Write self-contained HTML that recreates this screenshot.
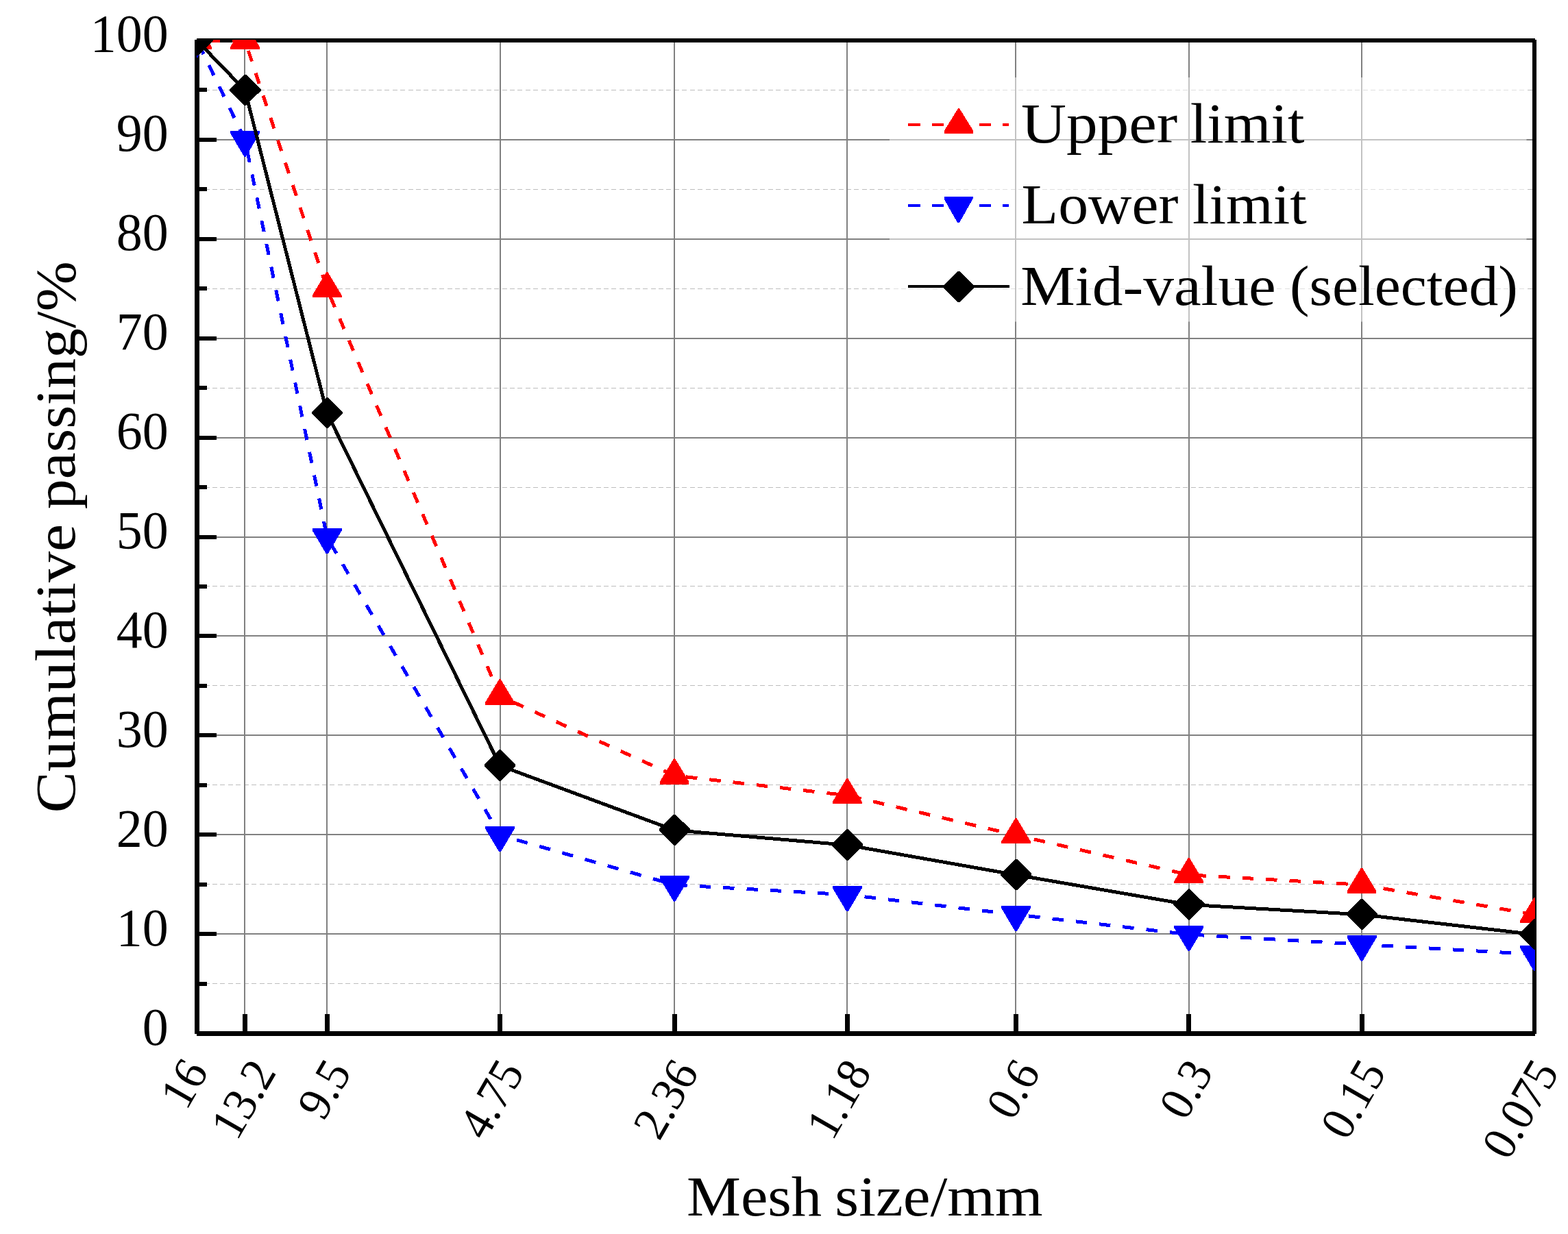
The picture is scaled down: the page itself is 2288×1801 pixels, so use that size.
<!DOCTYPE html>
<html lang="en"><head><meta charset="utf-8"><title>Cumulative passing vs mesh size</title>
<style>html,body{margin:0;padding:0;background:#fff;}body{width:2288px;height:1801px;overflow:hidden;}svg{display:block;}text{font-family:"Liberation Serif", serif;fill:#000;}</style></head><body>
<svg width="2288" height="1801" viewBox="0 0 2288 1801">
<rect x="0" y="0" width="2288" height="1801" fill="#ffffff"/>
<defs><clipPath id="plotclip"><rect x="287" y="58" width="1953" height="1451"/></clipPath></defs>
<g id="grid" shape-rendering="crispEdges">
<line x1="287.2" y1="1435.5" x2="2236" y2="1435.5" stroke="#bdbdbd" stroke-width="1" stroke-dasharray="7 4.42"/>
<line x1="287.2" y1="1290.5" x2="2236" y2="1290.5" stroke="#bdbdbd" stroke-width="1" stroke-dasharray="7 4.42"/>
<line x1="287.2" y1="1145.5" x2="2236" y2="1145.5" stroke="#bdbdbd" stroke-width="1" stroke-dasharray="7 4.42"/>
<line x1="287.2" y1="1000.5" x2="2236" y2="1000.5" stroke="#bdbdbd" stroke-width="1" stroke-dasharray="7 4.42"/>
<line x1="287.2" y1="855.5" x2="2236" y2="855.5" stroke="#bdbdbd" stroke-width="1" stroke-dasharray="7 4.42"/>
<line x1="287.2" y1="711.5" x2="2236" y2="711.5" stroke="#bdbdbd" stroke-width="1" stroke-dasharray="7 4.42"/>
<line x1="287.2" y1="566.5" x2="2236" y2="566.5" stroke="#bdbdbd" stroke-width="1" stroke-dasharray="7 4.42"/>
<line x1="287.2" y1="421.5" x2="2236" y2="421.5" stroke="#bdbdbd" stroke-width="1" stroke-dasharray="7 4.42"/>
<line x1="287.2" y1="276.5" x2="2236" y2="276.5" stroke="#bdbdbd" stroke-width="1" stroke-dasharray="7 4.42"/>
<line x1="287.2" y1="131.5" x2="2236" y2="131.5" stroke="#bdbdbd" stroke-width="1" stroke-dasharray="7 4.42"/>
<rect x="316" y="1362" width="1920" height="2" fill="#808080"/>
<rect x="316" y="1217" width="1920" height="2" fill="#808080"/>
<rect x="316" y="1072" width="1920" height="2" fill="#808080"/>
<rect x="316" y="927" width="1920" height="2" fill="#808080"/>
<rect x="316" y="783" width="1920" height="2" fill="#808080"/>
<rect x="316" y="638" width="1920" height="2" fill="#808080"/>
<rect x="316" y="493" width="1920" height="2" fill="#808080"/>
<rect x="316" y="348" width="1920" height="2" fill="#808080"/>
<rect x="316" y="203" width="1920" height="2" fill="#808080"/>
<rect x="356" y="62" width="2" height="1418" fill="#808080"/>
<rect x="476" y="62" width="2" height="1418" fill="#808080"/>
<rect x="729" y="62" width="2" height="1418" fill="#808080"/>
<rect x="983" y="62" width="2" height="1418" fill="#808080"/>
<rect x="1235" y="62" width="2" height="1418" fill="#808080"/>
<rect x="1481" y="62" width="2" height="1418" fill="#808080"/>
<rect x="1734" y="62" width="2" height="1418" fill="#808080"/>
<rect x="1986" y="62" width="2" height="1418" fill="#808080"/>
</g>
<rect x="1298" y="113" width="929.5" height="356.5" fill="#ffffff" fill-opacity="0.52"/>
<g id="axes" fill="#000" shape-rendering="crispEdges">
<rect x="284" y="58" width="7" height="1451"/>
<rect x="2236" y="58" width="6" height="1451"/>
<rect x="287" y="56" width="1953" height="6"/>
<rect x="287" y="1505" width="1953" height="7"/>
<rect x="291" y="1433" width="11" height="6"/>
<rect x="291" y="1360" width="25" height="6"/>
<rect x="291" y="1288" width="11" height="6"/>
<rect x="291" y="1215" width="25" height="6"/>
<rect x="291" y="1143" width="11" height="6"/>
<rect x="291" y="1070" width="25" height="6"/>
<rect x="291" y="998" width="11" height="6"/>
<rect x="291" y="925" width="25" height="6"/>
<rect x="291" y="853" width="11" height="6"/>
<rect x="291" y="781" width="25" height="6"/>
<rect x="291" y="708" width="11" height="6"/>
<rect x="291" y="636" width="25" height="6"/>
<rect x="291" y="563" width="11" height="6"/>
<rect x="291" y="491" width="25" height="6"/>
<rect x="291" y="418" width="11" height="6"/>
<rect x="291" y="346" width="25" height="6"/>
<rect x="291" y="273" width="11" height="6"/>
<rect x="291" y="201" width="25" height="6"/>
<rect x="291" y="128" width="11" height="6"/>
<rect x="354" y="1480" width="7" height="25"/>
<rect x="474" y="1480" width="7" height="25"/>
<rect x="726" y="1480" width="7" height="25"/>
<rect x="981" y="1480" width="7" height="25"/>
<rect x="1233" y="1480" width="7" height="25"/>
<rect x="1479" y="1480" width="7" height="25"/>
<rect x="1731" y="1480" width="7" height="25"/>
<rect x="1984" y="1480" width="7" height="25"/>
</g>
<g id="data" clip-path="url(#plotclip)" shape-rendering="crispEdges">
<polyline points="287.50,59.27 357.51,59.27 477.22,421.64 729.49,1015.94 984.07,1131.90 1236.34,1160.89 1482.49,1218.87 1734.76,1276.85 1987.03,1291.35 2239.30,1334.83" fill="none" stroke="#ff0000" stroke-width="5.0" stroke-linejoin="round" stroke-dasharray="16.4 18.04" stroke-dashoffset="17.84"/>
<polygon points="286.50,34.47 288.50,34.47 308.80,68.27 308.80,71.87 266.20,71.87 266.20,68.27 286.50,34.47" fill="#ff0000"/>
<polygon points="356.51,34.47 358.51,34.47 378.81,68.27 378.81,71.87 336.21,71.87 336.21,68.27 356.51,34.47" fill="#ff0000"/>
<polygon points="476.22,396.84 478.22,396.84 498.52,430.64 498.52,434.25 455.92,434.25 455.92,430.64 476.22,396.84" fill="#ff0000"/>
<polygon points="728.49,991.14 730.49,991.14 750.79,1024.94 750.79,1028.54 708.19,1028.54 708.19,1024.94 728.49,991.14" fill="#ff0000"/>
<polygon points="983.07,1107.10 985.07,1107.10 1005.37,1140.90 1005.37,1144.50 962.77,1144.50 962.77,1140.90 983.07,1107.10" fill="#ff0000"/>
<polygon points="1235.34,1136.09 1237.34,1136.09 1257.64,1169.89 1257.64,1173.49 1215.04,1173.49 1215.04,1169.89 1235.34,1136.09" fill="#ff0000"/>
<polygon points="1481.49,1194.07 1483.49,1194.07 1503.79,1227.87 1503.79,1231.47 1461.19,1231.47 1461.19,1227.87 1481.49,1194.07" fill="#ff0000"/>
<polygon points="1733.76,1252.05 1735.76,1252.05 1756.06,1285.85 1756.06,1289.45 1713.46,1289.45 1713.46,1285.85 1733.76,1252.05" fill="#ff0000"/>
<polygon points="1986.03,1266.55 1988.03,1266.55 2008.33,1300.35 2008.33,1303.94 1965.73,1303.94 1965.73,1300.35 1986.03,1266.55" fill="#ff0000"/>
<polygon points="2238.30,1310.03 2240.30,1310.03 2260.60,1343.83 2260.60,1347.43 2218.00,1347.43 2218.00,1343.83 2238.30,1310.03" fill="#ff0000"/>
<polyline points="287.50,59.27 357.51,204.22 477.22,784.02 729.49,1218.87 984.07,1291.35 1236.34,1305.84 1482.49,1334.83 1734.76,1363.82 1987.03,1378.32 2239.30,1392.81" fill="none" stroke="#0000ff" stroke-width="5.0" stroke-linejoin="round" stroke-dasharray="16.4 18.08" stroke-dashoffset="28.98"/>
<polygon points="286.30,83.67 288.70,83.67 309.00,49.67 309.00,46.17 266.00,46.17 266.00,49.67 286.30,83.67" fill="#0000ff"/>
<polygon points="356.31,228.62 358.71,228.62 379.01,194.62 379.01,191.12 336.01,191.12 336.01,194.62 356.31,228.62" fill="#0000ff"/>
<polygon points="476.02,808.42 478.42,808.42 498.72,774.42 498.72,770.92 455.72,770.92 455.72,774.42 476.02,808.42" fill="#0000ff"/>
<polygon points="728.29,1243.27 730.69,1243.27 750.99,1209.27 750.99,1205.77 707.99,1205.77 707.99,1209.27 728.29,1243.27" fill="#0000ff"/>
<polygon points="982.87,1315.75 985.27,1315.75 1005.57,1281.75 1005.57,1278.25 962.57,1278.25 962.57,1281.75 982.87,1315.75" fill="#0000ff"/>
<polygon points="1235.14,1330.24 1237.54,1330.24 1257.84,1296.24 1257.84,1292.74 1214.84,1292.74 1214.84,1296.24 1235.14,1330.24" fill="#0000ff"/>
<polygon points="1481.29,1359.23 1483.69,1359.23 1503.99,1325.23 1503.99,1321.73 1460.99,1321.73 1460.99,1325.23 1481.29,1359.23" fill="#0000ff"/>
<polygon points="1733.56,1388.22 1735.96,1388.22 1756.26,1354.22 1756.26,1350.72 1713.26,1350.72 1713.26,1354.22 1733.56,1388.22" fill="#0000ff"/>
<polygon points="1985.83,1402.72 1988.23,1402.72 2008.53,1368.72 2008.53,1365.22 1965.53,1365.22 1965.53,1368.72 1985.83,1402.72" fill="#0000ff"/>
<polygon points="2238.10,1417.21 2240.50,1417.21 2260.80,1383.21 2260.80,1379.71 2217.80,1379.71 2217.80,1383.21 2238.10,1417.21" fill="#0000ff"/>
<polyline points="287.50,59.27 357.51,131.74 477.22,602.83 729.49,1117.40 984.07,1211.62 1236.34,1233.37 1482.49,1276.85 1734.76,1320.34 1987.03,1334.83 2239.30,1363.82" fill="none" stroke="#000000" stroke-width="5.0" stroke-linejoin="round"/>
<polygon points="286.60,36.27 289.00,36.27 310.50,57.67 310.50,60.07 289.00,81.47 286.60,81.47 265.10,60.07 265.10,57.67" fill="#000000"/>
<polygon points="356.61,108.74 359.01,108.74 380.51,130.14 380.51,132.54 359.01,153.94 356.61,153.94 335.11,132.54 335.11,130.14" fill="#000000"/>
<polygon points="476.32,579.83 478.72,579.83 500.22,601.23 500.22,603.63 478.72,625.03 476.32,625.03 454.82,603.63 454.82,601.23" fill="#000000"/>
<polygon points="728.59,1094.40 730.99,1094.40 752.49,1115.81 752.49,1118.21 730.99,1139.61 728.59,1139.61 707.09,1118.21 707.09,1115.81" fill="#000000"/>
<polygon points="983.17,1188.62 985.57,1188.62 1007.07,1210.02 1007.07,1212.42 985.57,1233.82 983.17,1233.82 961.67,1212.42 961.67,1210.02" fill="#000000"/>
<polygon points="1235.44,1210.37 1237.84,1210.37 1259.34,1231.77 1259.34,1234.17 1237.84,1255.57 1235.44,1255.57 1213.94,1234.17 1213.94,1231.77" fill="#000000"/>
<polygon points="1481.59,1253.85 1483.99,1253.85 1505.49,1275.25 1505.49,1277.65 1483.99,1299.05 1481.59,1299.05 1460.09,1277.65 1460.09,1275.25" fill="#000000"/>
<polygon points="1733.86,1297.34 1736.26,1297.34 1757.76,1318.73 1757.76,1321.13 1736.26,1342.54 1733.86,1342.54 1712.36,1321.13 1712.36,1318.73" fill="#000000"/>
<polygon points="1986.13,1311.83 1988.53,1311.83 2010.03,1333.23 2010.03,1335.63 1988.53,1357.03 1986.13,1357.03 1964.63,1335.63 1964.63,1333.23" fill="#000000"/>
<polygon points="2238.40,1340.82 2240.80,1340.82 2262.30,1362.22 2262.30,1364.62 2240.80,1386.02 2238.40,1386.02 2216.90,1364.62 2216.90,1362.22" fill="#000000"/>
</g>
<g id="legend" shape-rendering="crispEdges">
<rect x="1325" y="180" width="18" height="4" fill="#ff0000"/>
<rect x="1360" y="180" width="17" height="4" fill="#ff0000"/>
<rect x="1394" y="180" width="18" height="4" fill="#ff0000"/>
<rect x="1429" y="180" width="17" height="4" fill="#ff0000"/>
<rect x="1463" y="180" width="9" height="4" fill="#ff0000"/>
<polygon points="1398.00,158.20 1400.00,158.20 1420.30,191.00 1420.30,194.60 1377.70,194.60 1377.70,191.00 1398.00,158.20" fill="#ff0000"/>
<rect x="1325" y="298" width="18" height="4" fill="#0000ff"/>
<rect x="1360" y="298" width="17" height="4" fill="#0000ff"/>
<rect x="1394" y="298" width="18" height="4" fill="#0000ff"/>
<rect x="1429" y="298" width="17" height="4" fill="#0000ff"/>
<rect x="1463" y="298" width="9" height="4" fill="#0000ff"/>
<polygon points="1397.30,325.30 1399.70,325.30 1419.50,290.40 1419.50,286.90 1377.50,286.90 1377.50,290.40 1397.30,325.30" fill="#0000ff"/>
<rect x="1325" y="416" width="148" height="4" fill="#000000"/>
<polygon points="1397.70,395.90 1400.10,395.90 1421.60,417.30 1421.60,419.70 1400.10,441.10 1397.70,441.10 1376.20,419.70 1376.20,417.30" fill="#000000"/>
</g>
<text font-size="83"><tspan x="1001.99" y="1774.00" textLength="197.22" lengthAdjust="spacingAndGlyphs">Mesh</tspan> <tspan x="1218.36" y="1774.00" textLength="303.13" lengthAdjust="spacingAndGlyphs">size/mm</tspan></text>
<text font-size="83"><tspan x="1489.95" y="207.80" textLength="228.24" lengthAdjust="spacingAndGlyphs">Upper</tspan> <tspan x="1736.81" y="207.80" textLength="166.80" lengthAdjust="spacingAndGlyphs">limit</tspan></text>
<text font-size="83"><tspan x="1490.60" y="325.80" textLength="228.96" lengthAdjust="spacingAndGlyphs">Lower</tspan> <tspan x="1739.99" y="325.80" textLength="166.82" lengthAdjust="spacingAndGlyphs">limit</tspan></text>
<text font-size="83"><tspan x="1489.35" y="445.00" textLength="372.47" lengthAdjust="spacingAndGlyphs">Mid-value</tspan> <tspan x="1882.08" y="445.00" textLength="332.77" lengthAdjust="spacingAndGlyphs">(selected)</tspan></text>
<text transform="translate(108.90,1186.45) rotate(-90)" font-size="83"><tspan x="0.00" y="0.00" textLength="421.64" lengthAdjust="spacingAndGlyphs">Cumulative</tspan> <tspan x="443.28" y="0.00" textLength="361.99" lengthAdjust="spacingAndGlyphs">passing/%</tspan></text>
<text class="yt" transform="translate(245.80,1524.97) scale(0.9642,1)" font-size="78.8" text-anchor="end">0</text>
<text class="yt" transform="translate(245.80,1380.02) scale(0.9642,1)" font-size="78.8" text-anchor="end">10</text>
<text class="yt" transform="translate(245.80,1235.07) scale(0.9642,1)" font-size="78.8" text-anchor="end">20</text>
<text class="yt" transform="translate(245.80,1090.12) scale(0.9642,1)" font-size="78.8" text-anchor="end">30</text>
<text class="yt" transform="translate(245.80,945.17) scale(0.9642,1)" font-size="78.8" text-anchor="end">40</text>
<text class="yt" transform="translate(245.80,800.22) scale(0.9642,1)" font-size="78.8" text-anchor="end">50</text>
<text class="yt" transform="translate(245.80,655.27) scale(0.9642,1)" font-size="78.8" text-anchor="end">60</text>
<text class="yt" transform="translate(245.80,510.32) scale(0.9642,1)" font-size="78.8" text-anchor="end">70</text>
<text class="yt" transform="translate(245.80,365.37) scale(0.9642,1)" font-size="78.8" text-anchor="end">80</text>
<text class="yt" transform="translate(245.80,220.42) scale(0.9642,1)" font-size="78.8" text-anchor="end">90</text>
<text class="yt" transform="translate(245.80,75.47) scale(0.9642,1)" font-size="78.8" text-anchor="end">100</text>
<text class="xt" transform="translate(305.30,1563.75) rotate(-60) scale(0.9650,1)" font-size="69.6" text-anchor="end">16</text>
<text class="xt" transform="translate(404.31,1564.75) rotate(-60) scale(0.9650,1)" font-size="69.6" text-anchor="end">13.2</text>
<text class="xt" transform="translate(514.02,1564.75) rotate(-60) scale(0.9650,1)" font-size="69.6" text-anchor="end">9.5</text>
<text class="xt" transform="translate(766.29,1564.75) rotate(-60) scale(0.9650,1)" font-size="69.6" text-anchor="end">4.75</text>
<text class="xt" transform="translate(1020.87,1564.75) rotate(-60) scale(0.9650,1)" font-size="69.6" text-anchor="end">2.36</text>
<text class="xt" transform="translate(1273.14,1564.75) rotate(-60) scale(0.9650,1)" font-size="69.6" text-anchor="end">1.18</text>
<text class="xt" transform="translate(1519.29,1564.75) rotate(-60) scale(0.9650,1)" font-size="69.6" text-anchor="end">0.6</text>
<text class="xt" transform="translate(1771.56,1564.75) rotate(-60) scale(0.9650,1)" font-size="69.6" text-anchor="end">0.3</text>
<text class="xt" transform="translate(2023.83,1564.75) rotate(-60) scale(0.9650,1)" font-size="69.6" text-anchor="end">0.15</text>
<text class="xt" transform="translate(2276.10,1564.75) rotate(-60) scale(0.9650,1)" font-size="69.6" text-anchor="end">0.075</text>
</svg></body></html>
